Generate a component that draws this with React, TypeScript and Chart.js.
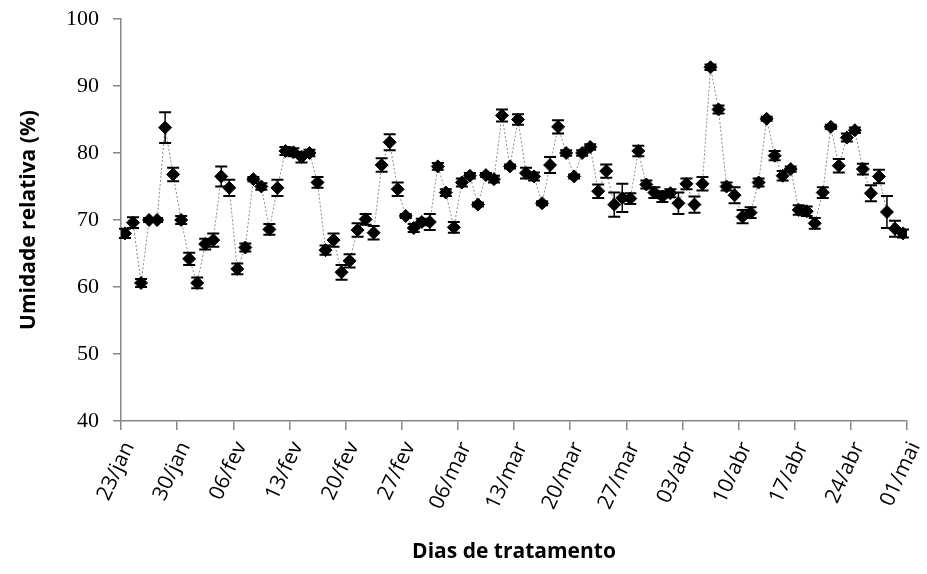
import React, { useEffect, useRef } from 'react';
import { Chart, registerables } from 'chart.js';

Chart.register(...registerables);

// Tick labels every 7 days (category boundaries)
const tickLabels = [
  '23/jan', '30/jan', '06/fev', '13/fev', '20/fev', '27/fev', '06/mar', '13/mar',
  '20/mar', '27/mar', '03/abr', '10/abr', '17/abr', '24/abr', '01/mai',
];

// Daily relative humidity (%) – 98 days
const humidity = [
  68.0, 69.6, 60.6, 70.0, 70.0, 83.8, 76.8, 70.0, 64.2, 60.6,
  66.4, 67.0, 76.5, 74.8, 62.7, 65.9, 76.1, 75.0, 68.6, 74.8,
  80.3, 80.1, 79.4, 80.0, 75.6, 65.5, 67.0, 62.2, 63.9, 68.5,
  70.1, 68.1, 78.2, 81.6, 74.6, 70.6, 68.8, 69.7, 69.7, 78.0,
  74.1, 68.9, 75.6, 76.6, 72.3, 76.7, 76.1, 85.6, 78.0, 85.0,
  77.0, 76.5, 72.5, 78.2, 83.9, 80.0, 76.5, 80.0, 80.9, 74.3,
  77.3, 72.3, 73.3, 73.2, 80.3, 75.3, 74.1, 73.5, 74.0, 72.5,
  75.4, 72.3, 75.4, 92.8, 86.5, 75.0, 73.7, 70.5, 71.1, 75.6,
  85.1, 79.6, 76.6, 77.6, 71.5, 71.3, 69.5, 74.1, 83.9, 78.1,
  82.3, 83.4, 77.6, 74.0, 76.5, 71.2, 68.7, 68.0,
];

// Error bar half-lengths
const errors = [
  0.7, 0.8, 0.6, 0.3, 0.3, 2.3, 1.0, 0.6, 0.9, 0.8,
  0.8, 1.0, 1.5, 1.2, 0.8, 0.6, 0.3, 0.5, 0.8, 1.2,
  0.6, 0.6, 0.8, 0.5, 0.8, 0.7, 1.0, 1.1, 1.0, 1.0,
  0.8, 1.0, 1.0, 1.2, 1.0, 0.3, 0.6, 0.5, 1.2, 0.5,
  0.5, 0.8, 0.6, 0.4, 0.3, 0.3, 0.5, 0.9, 0.3, 0.8,
  0.8, 0.6, 0.3, 1.2, 1.0, 0.4, 0.3, 0.4, 0.4, 1.0,
  1.0, 1.8, 2.1, 0.8, 0.8, 0.6, 0.8, 0.8, 0.6, 1.6,
  0.8, 1.2, 1.0, 0.4, 0.6, 0.6, 1.2, 1.0, 0.8, 0.6,
  0.3, 0.7, 0.7, 0.4, 0.7, 0.7, 0.8, 0.8, 0.3, 1.0,
  0.6, 0.4, 0.8, 1.2, 1.0, 2.4, 1.2, 0.6,
];

const AXIS_GRAY = '#878787';

const errorBarPlugin = {
  id: 'errorBars',
  afterDatasetsDraw(chart: any) {
    const { ctx } = chart;
    const xs = chart.scales.x;
    const ys = chart.scales.y;
    ctx.save();
    ctx.strokeStyle = '#000';
    humidity.forEach((v, i) => {
      const x = xs.getPixelForValue(i + 0.5);
      const yTop = ys.getPixelForValue(v + errors[i]);
      const yBot = ys.getPixelForValue(v - errors[i]);
      ctx.lineWidth = 1.5;
      ctx.beginPath();
      ctx.moveTo(x, yTop);
      ctx.lineTo(x, yBot);
      ctx.stroke();
      ctx.lineWidth = 2;
      ctx.beginPath();
      ctx.moveTo(x - 6, yTop);
      ctx.lineTo(x + 6, yTop);
      ctx.moveTo(x - 6, yBot);
      ctx.lineTo(x + 6, yBot);
      ctx.stroke();
    });
    ctx.restore();
  },
};

export default function App() {
  const canvasRef = useRef<HTMLCanvasElement | null>(null);

  useEffect(() => {
    document.body.style.margin = '0';
    const canvas = canvasRef.current;
    if (!canvas) return;
    const chart = new Chart(canvas, {
      type: 'line',
      data: {
        datasets: [
          {
            data: humidity.map((v, i) => ({ x: i + 0.5, y: v })),
            borderColor: '#8a8a8a',
            borderWidth: 1,
            borderDash: [2, 2],
            pointStyle: 'rectRot',
            pointRadius: 6.5,
            pointBackgroundColor: '#000',
            pointBorderColor: '#000',
            pointBorderWidth: 1,
            tension: 0,
          },
        ],
      },
      options: {
        animation: false,
        responsive: false,
        maintainAspectRatio: false,
        layout: { padding: { top: 19, right: 20, left: 0, bottom: 0 } },
        plugins: {
          legend: { display: false },
          tooltip: { enabled: false },
        },
        scales: {
          x: {
            type: 'linear',
            min: 0,
            max: 98,
            afterBuildTicks: (scale: any) => {
              scale.ticks = tickLabels.map((_, k) => ({ value: k * 7 }));
            },
            ticks: {
              autoSkip: false,
              minRotation: 65,
              maxRotation: 65,
              padding: 8,
              labelOffset: 8,
              color: '#000',
              font: { family: '"Open Sans", sans-serif', size: 21 },
              callback: (v: any) => tickLabels[Math.round(Number(v) / 7)],
            },
            grid: {
              display: true,
              drawOnChartArea: false,
              drawTicks: true,
              tickLength: 9,
              color: AXIS_GRAY,
              lineWidth: 1.5,
            },
            border: { display: true, color: AXIS_GRAY, width: 1.5 },
            title: {
              display: true,
              text: 'Dias de tratamento',
              color: '#000',
              font: { family: '"Open Sans", sans-serif', size: 21, weight: 'bold' },
              padding: { top: 0, bottom: 9 },
            },
            afterFit: (scale: any) => {
              scale.height = 153;
              scale.paddingLeft = 0;
              scale.paddingRight = 0;
            },
          },
          y: {
            min: 40,
            max: 100,
            ticks: {
              stepSize: 10,
              padding: 14,
              color: '#000',
              font: { family: '"Liberation Serif", serif', size: 22 },
            },
            grid: {
              display: true,
              drawOnChartArea: false,
              drawTicks: true,
              tickLength: 8,
              color: AXIS_GRAY,
              lineWidth: 1.5,
            },
            border: { display: true, color: AXIS_GRAY, width: 1.5 },
            title: {
              display: true,
              text: 'Umidade relativa (%)',
              color: '#000',
              font: { family: '"Open Sans", sans-serif', size: 21, weight: 'bold' },
              padding: { top: 16, bottom: 0 },
            },
            afterFit: (scale: any) => {
              scale.width = 121;
              scale.paddingTop = 0;
              scale.paddingBottom = 0;
            },
          },
        },
      },
      plugins: [errorBarPlugin],
    });
    return () => chart.destroy();
  }, []);

  return (
    <div style={{ width: 927, height: 574 }}>
      <canvas ref={canvasRef} width={927} height={574} style={{ display: 'block' }} />
    </div>
  );
}
